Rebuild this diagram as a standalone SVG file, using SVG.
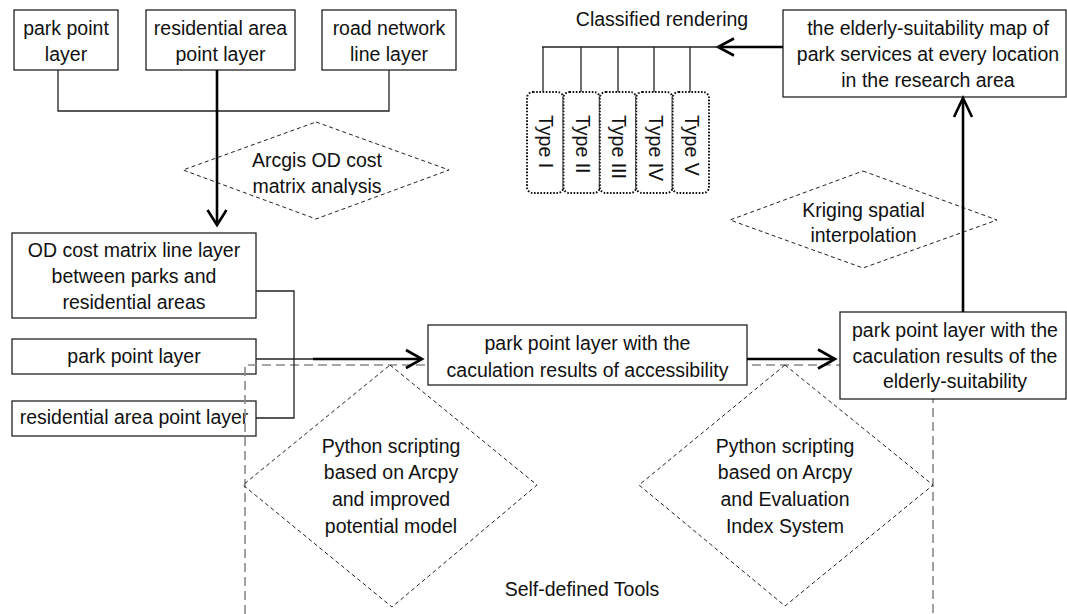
<svg xmlns="http://www.w3.org/2000/svg" width="1067" height="614" viewBox="0 0 1067 614">
<style>
.box{fill:#fff;stroke:#222;stroke-width:1.3}
.t{font-family:"Liberation Sans",Arial,sans-serif;font-size:19.5px;fill:#111;text-anchor:middle}
.ts{font-family:"Liberation Sans",Arial,sans-serif;font-size:19.5px;fill:#111;text-anchor:start}
.thin{fill:none;stroke:#222;stroke-width:1.3}
.thick{fill:none;stroke:#000;stroke-width:2.6}
.head{fill:none;stroke:#000;stroke-width:2.6;stroke-linejoin:miter}
.dia{fill:none;stroke:#222;stroke-width:1;stroke-dasharray:4 3}
.gray{fill:none;stroke:#8a8a8a;stroke-width:1.6;stroke-dasharray:9 5}
.dot{fill:#fff;stroke:#111;stroke-width:2;stroke-dasharray:1.6 1.6}
</style>
<defs>
<clipPath id="clipA"><rect x="180" y="120" width="280" height="75"/></clipPath>
<clipPath id="clipK"><rect x="725" y="170" width="280" height="74"/></clipPath>
</defs>
<rect width="1067" height="614" fill="#fff"/>

<g id="n-park-top"><rect class="box" x="14" y="10" width="104" height="60"/><text class="t" x="66" y="35">park point</text><text class="t" x="66" y="61">layer</text></g>
<g id="n-res-top"><rect class="box" x="146" y="10" width="149" height="60"/><text class="t" x="220.5" y="35">residential area</text><text class="t" x="220.5" y="61">point layer</text></g>
<g id="n-road"><rect class="box" x="322" y="10" width="134" height="60"/><text class="t" x="389" y="35">road network</text><text class="t" x="389" y="61">line layer</text></g>

<g id="n-arcgis"><polygon class="dia" points="316,122 449,170 316,219 183,170"/><g clip-path="url(#clipA)"><text class="t" x="317" y="167">Arcgis OD cost</text><text class="t" x="317" y="193">matrix analysis</text></g></g>

<g id="n-od"><rect class="box" x="12" y="233" width="244" height="85"/><text class="t" x="134" y="257">OD cost matrix line layer</text><text class="t" x="134" y="283">between parks and</text><text class="t" x="134" y="309">residential areas</text></g>
<g id="n-park-mid"><rect class="box" x="12" y="339" width="244" height="35"/><text class="t" x="134" y="363">park point layer</text></g>
<g id="n-res-mid"><rect class="box" x="12" y="401" width="244" height="35"/><text class="t" x="134" y="424">residential area point layer</text></g>

<g id="n-tools"><path class="gray" d="M245,614 V365 H933 V614"/><text class="t" x="582" y="596">Self-defined Tools</text></g>

<g id="n-py1"><polygon class="dia" points="390,365 537,485 392,607 243,485"/><text class="t" x="391" y="453">Python scripting</text><text class="t" x="391" y="479">based on Arcpy</text><text class="t" x="391" y="506">and improved</text><text class="t" x="391" y="533">potential model</text></g>
<g id="n-py2"><polygon class="dia" points="785,365 933,485 785,606 639,485"/><text class="t" x="785" y="453">Python scripting</text><text class="t" x="785" y="479">based on Arcpy</text><text class="t" x="785" y="506">and Evaluation</text><text class="t" x="785" y="533">Index System</text></g>

<g id="n-access"><rect class="box" x="428" y="325" width="319" height="60"/><text class="t" x="587.5" y="350">park point layer with the</text><text class="t" x="587.5" y="377">caculation results of accessibility</text></g>
<g id="n-suit"><rect class="box" x="840" y="312" width="226" height="87"/><text class="t" x="955" y="337">park point layer with the</text><text class="t" x="955" y="363">caculation results of the</text><text class="t" x="955" y="388">elderly-suitability</text></g>

<g id="n-kriging"><polygon class="dia" points="863,171 997,220 863,268 730,220"/><g clip-path="url(#clipK)"><text class="t" x="863.5" y="217">Kriging spatial</text><text class="t" x="863.5" y="242">interpolation</text></g></g>

<g id="n-map"><rect class="box" x="783" y="10" width="283" height="87"/><text class="t" x="928" y="35">the elderly-suitability map of</text><text class="t" x="928" y="61">park services at every location</text><text class="t" x="928" y="87">in the research area</text></g>

<g id="n-classified"><text class="t" x="662" y="26">Classified rendering</text></g>

<g id="n-types">
<rect class="dot" x="527" y="92" width="36.4" height="101" rx="6"/>
<rect class="dot" x="563.4" y="92" width="36.4" height="101" rx="6"/>
<rect class="dot" x="599.8" y="92" width="36.4" height="101" rx="6"/>
<rect class="dot" x="636.2" y="92" width="36.4" height="101" rx="6"/>
<rect class="dot" x="672.6" y="92" width="36.4" height="101" rx="6"/>
<text class="ts" transform="translate(539,115) rotate(90)">Type I</text>
<text class="ts" transform="translate(575.5,115) rotate(90)">Type II</text>
<text class="ts" transform="translate(612,115) rotate(90)">Type III</text>
<text class="ts" transform="translate(648.5,115) rotate(90)">Type IV</text>
<text class="ts" transform="translate(685,115) rotate(90)">Type V</text>
</g>

<g id="connectors">
<polyline class="thin" points="58,70 58,111 389,111 389,70"/>
<line class="thick" x1="217" y1="70" x2="217" y2="224"/>
<polyline class="head" points="207.5,210 217,225 226.5,210"/>
<polyline class="thin" points="256,291 294,291 294,418 256,418"/>
<line class="thin" x1="256" y1="359" x2="314" y2="359"/>
<line class="thick" x1="313" y1="359" x2="420" y2="359"/>
<polyline class="head" points="406,350 422,359 406,368"/>
<line class="thick" x1="747" y1="359" x2="833" y2="359"/>
<polyline class="head" points="818,349.5 835,359 818,368.5"/>
<line class="thick" x1="963" y1="312" x2="963" y2="100"/>
<polyline class="head" points="954,117 963,98 972,117"/>
<line class="thick" x1="783" y1="47" x2="720" y2="47"/>
<polyline class="head" points="734,38.5 718,47 734,55.5"/>
<line class="thin" x1="542" y1="47" x2="720" y2="47"/>
<line class="thin" x1="543" y1="47" x2="543" y2="92"/>
<line class="thin" x1="581" y1="47" x2="581" y2="92"/>
<line class="thin" x1="618" y1="47" x2="618" y2="92"/>
<line class="thin" x1="654" y1="47" x2="654" y2="92"/>
<line class="thin" x1="690" y1="47" x2="690" y2="92"/>
</g>
</svg>
